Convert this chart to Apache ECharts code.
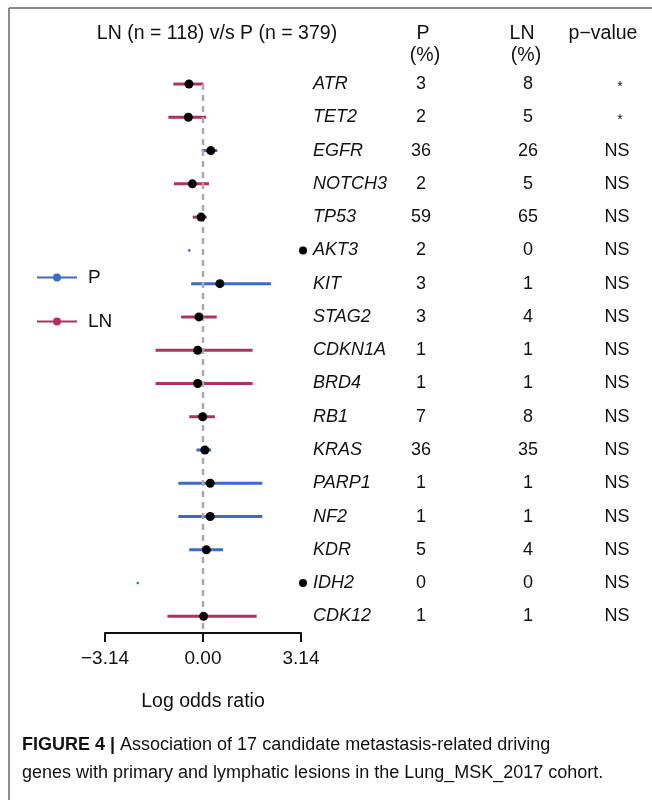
<!DOCTYPE html>
<html>
<head>
<meta charset="utf-8">
<script src="https://cdn.jsdelivr.net/npm/echarts@6/dist/echarts.min.js"></script>
<style>
html,body{margin:0;padding:0;background:#fff;}
#chart{width:652px;height:800px;}
</style>
</head>
<body>
<div id="chart"></div>
<script>
// ---- data ----
const genes = ['ATR','TET2','EGFR','NOTCH3','TP53','AKT3','KIT','STAG2','CDKN1A','BRD4','RB1','KRAS','PARP1','NF2','KDR','IDH2','CDK12'];
const pPct = [3,2,36,2,59,2,3,3,1,1,7,36,1,1,5,0,1];
const lnPct = [8,5,26,5,65,0,1,4,1,1,8,35,1,1,4,0,1];
const pValue = ['*','*','NS','NS','NS','NS','NS','NS','NS','NS','NS','NS','NS','NS','NS','NS','NS'];
const logOR = [-0.45,-0.47,0.25,-0.34,-0.06,null,0.54,-0.13,-0.17,-0.17,-0.01,0.06,0.23,0.23,0.11,null,0.02];
const ciLow = [-0.95,-1.11,-0.04,-0.93,-0.33,-0.44,-0.38,-0.70,-1.52,-1.52,-0.44,-0.21,-0.79,-0.79,-0.44,-2.09,-1.14];
const ciHigh = [0.01,0.10,0.46,0.19,0.12,-0.44,2.18,0.44,1.59,1.59,0.38,0.26,1.90,1.90,0.64,-2.09,1.72];
const group = ['LN','LN','P','LN','LN','P','P','LN','LN','LN','LN','P','P','P','P','P','LN'];
const flagged = ['AKT3','IDH2'];

const FONT = 'Liberation Sans';
const COLORS = { P: '#3D6AC4', LN: '#B0305E' };
const TXT = '#111';

const chart = echarts.init(document.getElementById('chart'));

function ciSeries(name) {
  const data = [];
  genes.forEach((g, i) => { if (group[i] === name) data.push([ciLow[i], ciHigh[i], i]); });
  return {
    name: name,
    type: 'custom',
    z: 2,
    itemStyle: { color: COLORS[name] },
    encode: { x: [0, 1], y: 2 },
    data: data,
    renderItem: function (params, api) {
      const a = api.coord([api.value(0), api.value(2)]);
      const b = api.coord([api.value(1), api.value(2)]);
      if (Math.abs(a[0] - b[0]) < 0.5) {
        return { type: 'circle', shape: { cx: a[0], cy: a[1], r: 1.3 }, style: { fill: COLORS[name] } };
      }
      return { type: 'line', shape: { x1: a[0], y1: a[1], x2: b[0], y2: b[1] },
        style: { stroke: COLORS[name], lineWidth: 3 } };
    }
  };
}

const dotData = [];
genes.forEach((g, i) => { if (logOR[i] !== null) dotData.push([logOR[i], i]); });

const tableData = genes.map((g, i) => [0, i]);
const legendIcon = 'path://M0,3L40,3L40,5L0,5Z M16,4a4,4 0 1,1 8,0a4,4 0 1,1 -8,0Z';

const option = {
  animation: false,
  backgroundColor: '#fff',
  grid: { left: 105, width: 196, top: 67.4, height: 565.6, containLabel: false },
  xAxis: {
    type: 'value', min: -3.14, max: 3.14, interval: 3.14,
    axisLine: { show: true, lineStyle: { color: '#111', width: 2 } },
    axisTick: { show: true, length: 9, lineStyle: { color: '#111', width: 2 } },
    splitLine: { show: false },
    axisLabel: { fontSize: 19, color: TXT, fontFamily: FONT, margin: 16,
      formatter: v => (v < 0 ? '\u2212' : '') + Math.abs(v).toFixed(2) },
    name: 'Log odds ratio', nameLocation: 'middle', nameGap: 59,
    nameTextStyle: { fontSize: 19.5, color: TXT, fontFamily: FONT }
  },
  yAxis: { type: 'category', data: genes, inverse: true, show: false },
  legend: {
    orient: 'vertical', left: 32, top: 263, itemGap: 25, itemWidth: 40, itemHeight: 14,
    selectedMode: false,
    textStyle: { fontSize: 19, color: TXT, fontFamily: FONT, padding: [0, 0, 0, 6] },
    data: [ { name: 'P', icon: legendIcon }, { name: 'LN', icon: legendIcon } ]
  },
  series: [
    ciSeries('P'),
    ciSeries('LN'),
    {
      type: 'custom', z: 3, silent: true,
      data: [[0, 0]],
      renderItem: function (params, api) {
        const top = api.coord([0, 0]);
        const bottom = params.coordSys.y + params.coordSys.height;
        return { type: 'line', shape: { x1: top[0], y1: top[1], x2: top[0], y2: bottom },
          style: { stroke: '#aaaaaa', lineWidth: 2.5, lineDash: [6, 5] } };
      }
    },
    {
      type: 'scatter', z: 4, symbol: 'circle', symbolSize: 9,
      itemStyle: { color: '#000', opacity: 1 }, data: dotData, silent: true
    },
    {
      type: 'custom', z: 5, silent: true,
      data: tableData,
      encode: { x: 0, y: 1 },
      renderItem: function (params, api) {
        const i = api.value(1);
        const y = api.coord([0, i])[1];
        const base = { fontSize: 18, fontFamily: FONT, fill: TXT, verticalAlign: 'middle' };
        const star = pValue[i] === '*';
        const children = [
          { type: 'text', x: 313, y: y, style: Object.assign({}, base, { text: genes[i], fontStyle: 'italic', align: 'left' }) },
          { type: 'text', x: 421, y: y, style: Object.assign({}, base, { text: String(pPct[i]), align: 'center' }) },
          { type: 'text', x: 528, y: y, style: Object.assign({}, base, { text: String(lnPct[i]), align: 'center' }) },
          { type: 'text', x: star ? 620 : 617, y: star ? y + 3 : y, style: Object.assign({}, base, { text: pValue[i], align: 'center', fontSize: star ? 14 : 18 }) }
        ];
        if (flagged.indexOf(genes[i]) >= 0) {
          children.push({ type: 'circle', shape: { cx: 303, cy: y, r: 4 }, style: { fill: '#000' } });
        }
        return { type: 'group', children: children };
      }
    }
  ],
  graphic: [
    { type: 'line', shape: { x1: 9, y1: 8, x2: 652, y2: 8 }, style: { stroke: '#666', lineWidth: 1.5 } },
    { type: 'line', shape: { x1: 9, y1: 8, x2: 9, y2: 800 }, style: { stroke: '#666', lineWidth: 1.5 } },
    { type: 'text', x: 217, y: 34, style: { text: 'LN (n = 118) v/s P (n = 379)', fontSize: 19.5, fontFamily: FONT, fill: TXT, align: 'center', verticalAlign: 'middle' } },
    { type: 'text', x: 423, y: 34, style: { text: 'P', fontSize: 19.5, fontFamily: FONT, fill: TXT, align: 'center', verticalAlign: 'middle' } },
    { type: 'text', x: 425, y: 56, style: { text: '(%)', fontSize: 19.5, fontFamily: FONT, fill: TXT, align: 'center', verticalAlign: 'middle' } },
    { type: 'text', x: 522, y: 34, style: { text: 'LN', fontSize: 19.5, fontFamily: FONT, fill: TXT, align: 'center', verticalAlign: 'middle' } },
    { type: 'text', x: 526, y: 56, style: { text: '(%)', fontSize: 19.5, fontFamily: FONT, fill: TXT, align: 'center', verticalAlign: 'middle' } },
    { type: 'text', x: 603, y: 34, style: { text: 'p\u2212value', fontSize: 19.5, fontFamily: FONT, fill: TXT, align: 'center', verticalAlign: 'middle' } },
    { type: 'text', x: 22, y: 745, style: { text: '{b|FIGURE 4 |} Association of 17 candidate metastasis-related driving', fontSize: 18, fontFamily: FONT, fill: TXT, verticalAlign: 'middle',
        rich: { b: { fontWeight: 'bold', fontSize: 18, fontFamily: FONT, fill: TXT } } } },
    { type: 'text', x: 22, y: 773, style: { text: 'genes with primary and lymphatic lesions in the Lung_MSK_2017 cohort.', fontSize: 18, fontFamily: FONT, fill: TXT, verticalAlign: 'middle' } }
  ]
};
chart.setOption(option);
</script>
</body>
</html>
